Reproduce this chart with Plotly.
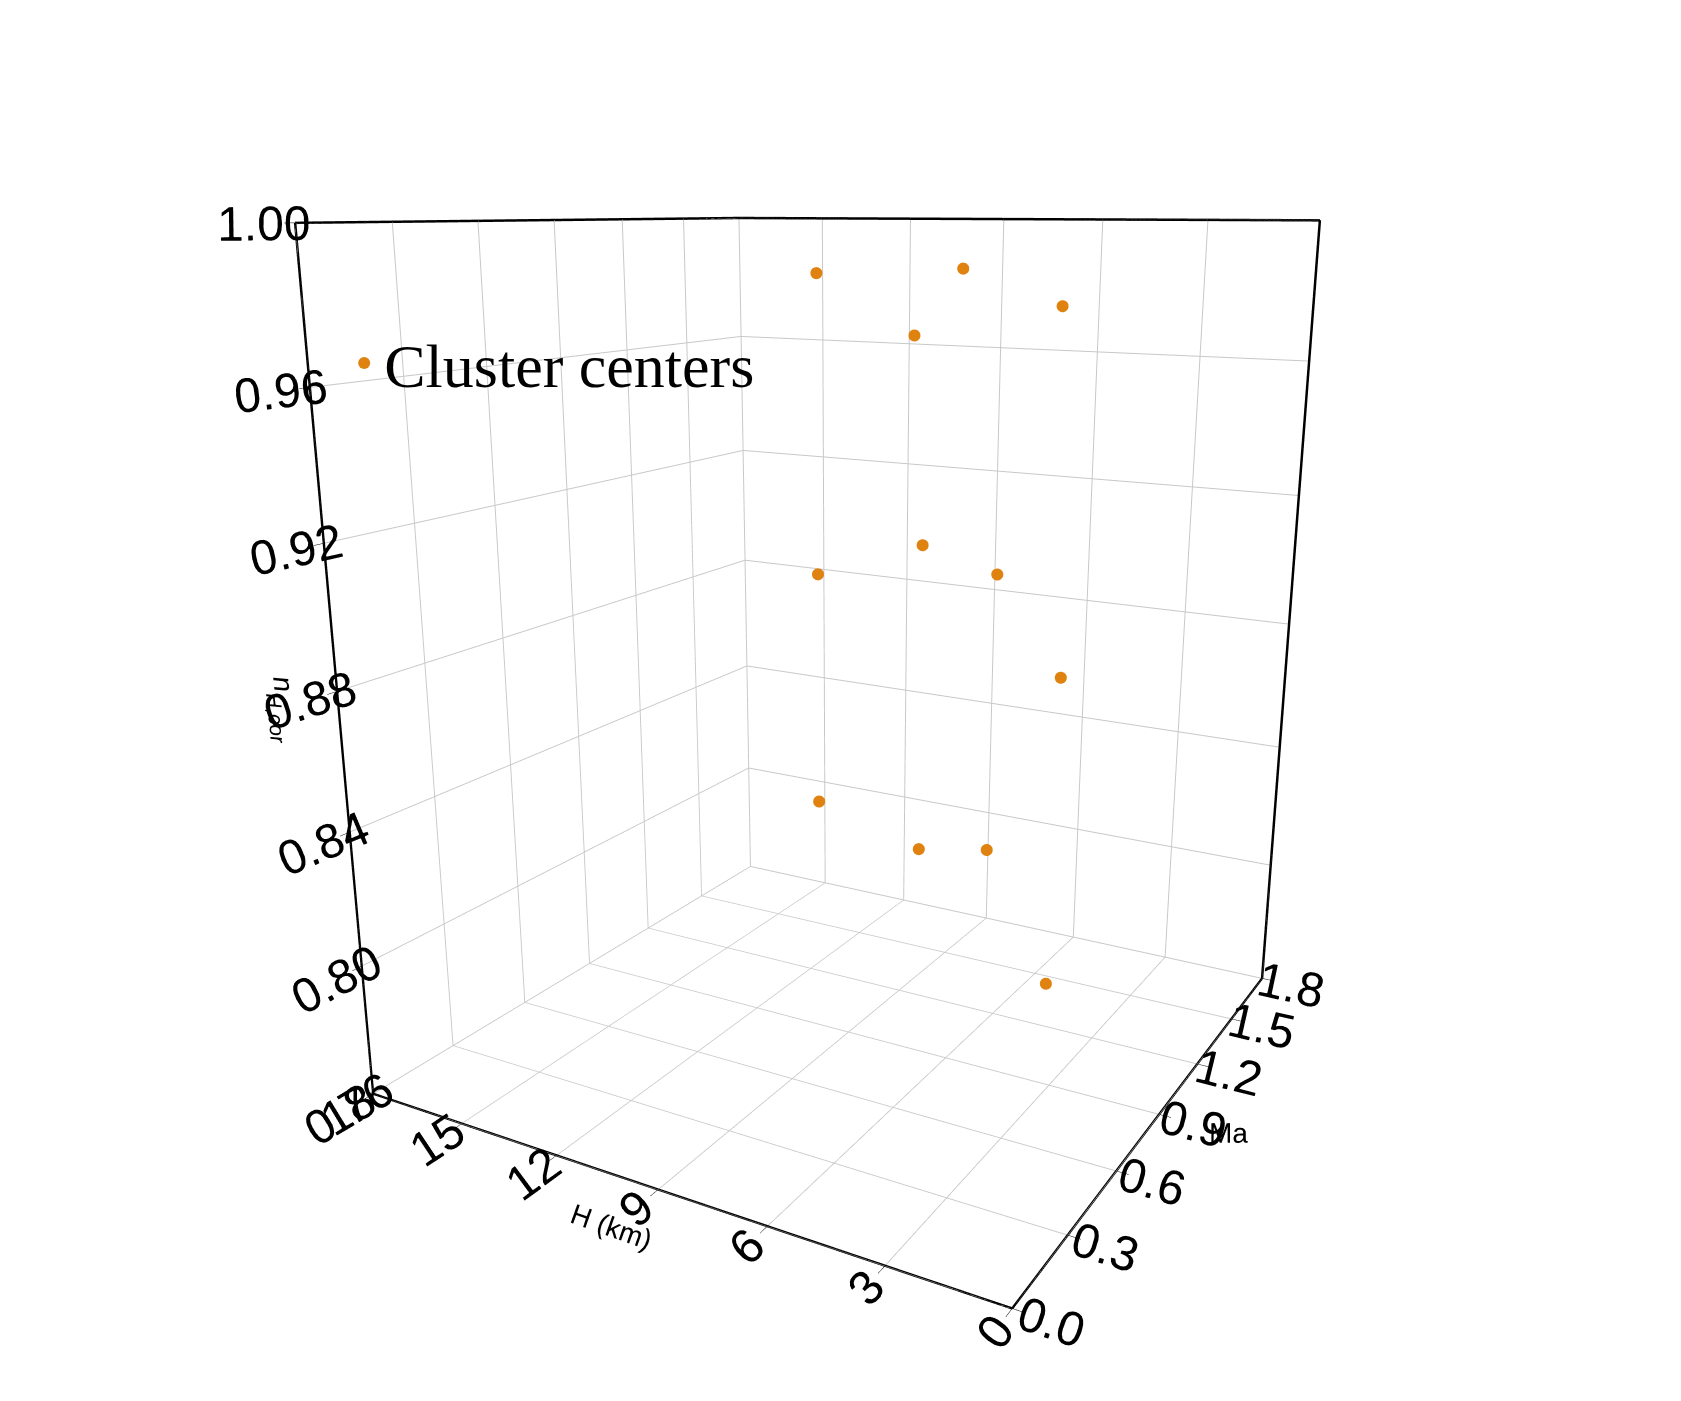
import plotly.graph_objects as go

H = [10.5, 6.4, 7.7, 3.8, 10.5, 7.4, 5.3, 3.5, 10.5, 7.4, 5.4, 3.6]
Ma = [1.0] * 12
n = [0.986, 0.988, 0.970, 0.979, 0.900, 0.912, 0.906, 0.879, 0.829, 0.820, 0.824, 0.786]

fig = go.Figure(go.Scatter3d(
    x=Ma, y=H, z=n, mode="markers", name="Cluster centers",
    marker=dict(size=7, color="#E0820F", line=dict(width=0))))

ax = dict(showbackground=False, gridcolor="#c8c8c8", gridwidth=2, showline=True, linecolor="black",
          linewidth=5, ticks="outside", tickcolor="black", ticklen=10,
          tickfont=dict(family="Liberation Sans", size=24, color="black"),
          showspikes=False, mirror=True)
tf = dict(family="Liberation Sans", size=28, color="black")
fig.update_layout(
    width=1681, height=1401, paper_bgcolor="white",
    scene=dict(
        xaxis=dict(ax, title=dict(text="Ma", font=tf), range=[0, 1.8], dtick=0.3, tickformat=".1f"),
        yaxis=dict(ax, title=dict(text="H (km)", font=tf), range=[0, 18], dtick=3),
        zaxis=dict(ax, title=dict(text="<i>n</i><sub><i>H,cor</i></sub>", font=tf), range=[0.76, 1.0], dtick=0.04, tickformat=".2f"),
        camera=dict(eye=dict(x=-2.05, y=-1.16, z=0.62), center=dict(x=0, y=0, z=-0.08)),
        aspectmode="manual", aspectratio=dict(x=1, y=1, z=1.2),
        domain=dict(x=[0.0, 1.0], y=[0.0, 1.0])),
    legend=dict(x=0.2, y=0.78, bgcolor="rgba(0,0,0,0)",
                font=dict(family="Liberation Serif", size=62, color="black"),
                itemsizing="constant"),
    showlegend=True, margin=dict(l=0, r=0, t=0, b=0))
fig.write_html("out.html")
